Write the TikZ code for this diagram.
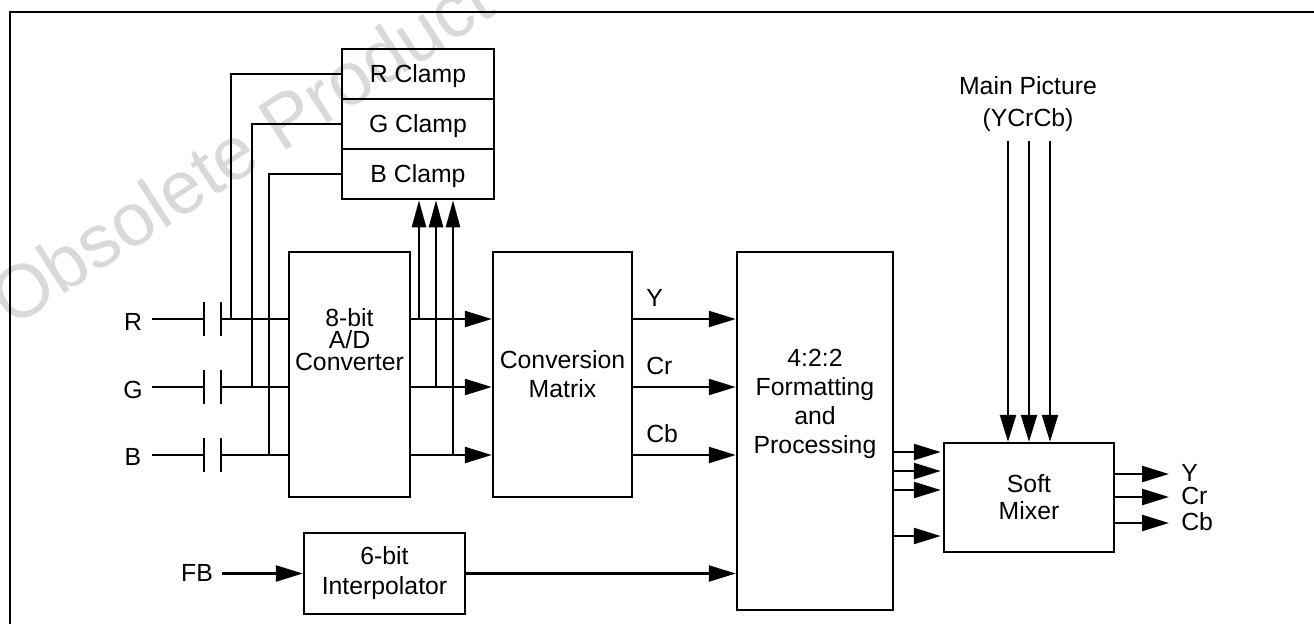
\documentclass[tikz,border=0pt]{standalone}
\usepackage{fontspec}
\setmainfont{Liberation Sans}
\usetikzlibrary{arrows.meta}
\begin{document}
\begin{tikzpicture}[x=0.5pt,y=-0.5pt, line width=1.25pt,
  font=\fontsize{12.4}{14.5}\selectfont,
  blk/.style={draw, inner sep=0pt, align=center},
  lbl/.style={inner sep=0pt},
  arr/.style={-{Triangle[length=13.5pt,width=8pt]}},
  arrn/.style={-{Triangle[length=13.5pt,width=7pt]}},
  wmark/.style={text=gray!30, font=\fontsize{37.5}{37.5}\selectfont}]
\useasboundingbox (0,0) rectangle (1314,623);
% watermark
\node[wmark, rotate=33, anchor=base west, inner sep=0pt] (wm) at (11,329) {Obsolete Product};
% frame
\draw (10,640) -- (10,12) -- (1330,12);
% clamps
\node[blk, minimum width=76pt, minimum height=25pt, text depth=0pt] (rclamp) at (418,74) {R Clamp};
\node[blk, minimum width=76pt, minimum height=25pt, text depth=0pt] (gclamp) at (418,124) {G Clamp};
\node[blk, minimum width=76pt, minimum height=25pt, text depth=0pt] (bclamp) at (418,174) {B Clamp};
% main blocks
\node[blk, minimum width=60.5pt, minimum height=122.5pt] (adc) at (349.5,374.5) {};
\node[lbl, align=center, font=\fontsize{12.4}{11}\selectfont] (adct) at (349.5,339.5) {8-bit\\A/D\\Converter};
\node[blk, minimum width=69.5pt, minimum height=122.5pt] (cm) at (562.5,374.5) {Conversion\\Matrix};
\node[blk, minimum width=78pt, minimum height=179pt] (fmt) at (815,431) {};
\node[lbl, align=center] (fmtt) at (815,404) {4:2:2\\Formatting\\and\\Processing};
\node[blk, minimum width=80.5pt, minimum height=40.5pt, font=\fontsize{12.4}{15}\selectfont] (interp) at (384.5,573.5) {6-bit\\Interpolator};
\node[blk, minimum width=85pt, minimum height=54.5pt, font=\fontsize{12.4}{13.5}\selectfont] (sm) at (1029,497.5) {Soft\\Mixer};
% input labels
\node[lbl, anchor=base] (rl) at (133,330) {R};
\node[lbl, anchor=base] (gl) at (133,398) {G};
\node[lbl, anchor=base] (bl) at (133,465) {B};
\node[lbl, anchor=base] (fbl) at (197,581) {FB};
% inputs and capacitors
\foreach \n/\yy in {r/319, g/387, b/455}{
  \coordinate (\n in) at (152,\yy);
  \coordinate (\n c1) at (204,\yy);
  \coordinate (\n c2) at (221,\yy);
  \draw (\n in) -- (\n c1);
  \draw ([yshift=8.5pt]\n c1) -- ([yshift=-8.5pt]\n c1);
  \draw ([yshift=8.5pt]\n c2) -- ([yshift=-8.5pt]\n c2);
  \draw (\n c2) -- (adc.west |- \n c2);
}
% clamp feedback
\draw (rclamp.west) -| (231,320);
\draw (gclamp.west) -| (252,387);
\draw (bclamp.west) -| (269,455);
% ADC outputs
\foreach \yy in {319,387,455}{
  \draw[arr] (adc.east |- 0,\yy) -- (cm.west |- 0,\yy);
}
\draw[arrn] (419,319) -- (bclamp.south -| 419,0);
\draw[arrn] (436,387) -- (bclamp.south -| 436,0);
\draw[arrn] (453,455) -- (bclamp.south -| 453,0);
% CM outputs
\foreach \yy in {319,387,455}{
  \draw[arr] (cm.east |- 0,\yy) -- (fmt.west |- 0,\yy);
}
\node[lbl, anchor=base west] (yl) at (645,306) {Y};
\node[lbl, anchor=base west] (crl) at (645,374) {Cr};
\node[lbl, anchor=base west] (cbl) at (645,442) {Cb};
% FB path
\coordinate (fbin) at (222,573.5);
\draw[arr] (fbin) -- (interp.west);
\draw[arr] (interp.east) -- (fmt.west |- interp.east);
% fmt to mixer
\foreach \yy in {452,471,490,536}{
  \draw[arr] (fmt.east |- 0,\yy) -- ([xshift=-1pt]sm.west |- 0,\yy);
}
% main picture
\node[lbl, align=center, font=\fontsize{12.4}{16.2}\selectfont] (mp) at (1028,104) {Main Picture\\(YCrCb)};
\foreach \xx in {1008,1029,1050}{
  \coordinate (mp\xx) at (\xx,141);
  \draw[arr] (mp\xx) -- (sm.north -| \xx,0);
}
% mixer outputs
\foreach \yy/\t/\bl/\nm in {474/Y/481/oy, 497/Cr/504.5/ocr, 523/Cb/530/ocb}{
  \node[lbl, anchor=base west] (\nm) at (1180,\bl) {\t};
  \draw[arr] (sm.east |- 0,\yy) -- (1169,\yy);
}
\end{tikzpicture}
\end{document}
